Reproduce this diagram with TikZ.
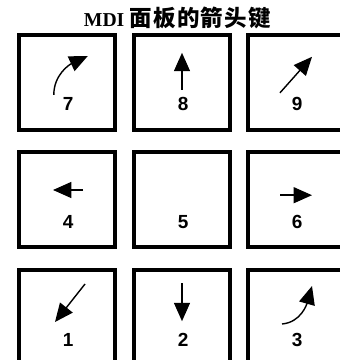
\documentclass[tikz,border=0pt]{standalone}
\usepackage{fontspec}
\setmainfont{Liberation Serif}
\newfontfamily\keyfont{Liberation Sans}
\newfontfamily\cjkfont{Noto Sans CJK SC}
\usetikzlibrary{arrows.meta,positioning}

\begin{document}
\begin{tikzpicture}[scale=1.0,
    key/.style={draw,line width=0.1cm,minimum width=2.4cm,minimum height=2.375cm,inner sep=0pt},
    num/.style={font=\keyfont\bfseries\fontsize{13.5}{14}\selectfont,inner sep=0pt},
    arr/.style={line width=1pt,-{Triangle[length=0.46cm,width=0.4cm]}}]
  \useasboundingbox (0,0) rectangle (8.5,9);
  % title
  \node[anchor=base,inner sep=0pt] (title) at (4.44,8.33)
    {\bfseries\fontsize{14}{15}\selectfont MDI
     {\cjkfont\fontsize{16}{17}\selectfont 面\kern1pt 板\kern1pt 的\kern1pt 箭\kern1pt 头\kern1pt 键}};
  % keys and their numbers
  \foreach \n/\x/\y in {7/1.675/6.94, 8/4.55/6.94, 9/7.4/6.94,
                        4/1.675/4.0,  5/4.55/4.0,  6/7.4/4.0,
                        1/1.675/1.06, 2/4.55/1.06, 3/7.4/1.06}
  {
    \node[key] (k\n) at (\x,\y) {};
    \node[num] (n\n) at ([xshift=0.03cm,yshift=-0.55cm]k\n.center) {\n};
  }
  % arrows, top row
  \draw[arr] ([shift={(-0.33,-0.31)}]k7.center) to[out=90,in=205] ([shift={(0.52,0.66)}]k7.center);
  \draw[arr] ([shift={(0,-0.19)}]k8.center) -- ([shift={(0,0.74)}]k8.center);
  \draw[arr] ([shift={(-0.4,-0.26)}]k9.center) -- ([shift={(0.4,0.64)}]k9.center);
  % arrows, middle row
  \draw[arr] ([shift={(0.4,0.25)}]k4.center) -- ([shift={(-0.35,0.25)}]k4.center);
  \draw[arr] ([shift={(-0.4,0.12)}]k6.center) -- ([shift={(0.4,0.12)}]k6.center);
  % arrows, bottom row
  \draw[arr] ([shift={(0.45,0.84)}]k1.center) -- ([shift={(-0.3,-0.11)}]k1.center);
  \draw[arr] ([shift={(0,0.86)}]k2.center) -- ([shift={(0,-0.09)}]k2.center);
  \draw[arr] ([shift={(-0.35,-0.16)}]k3.center) to[out=5,in=254] ([shift={(0.4,0.79)}]k3.center);
\end{tikzpicture}
\end{document}
